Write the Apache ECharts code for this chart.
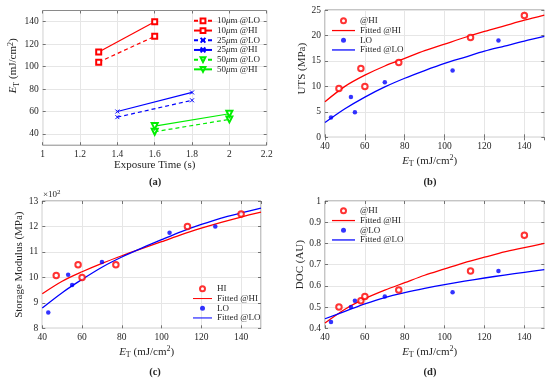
<!DOCTYPE html>
<html><head><meta charset="utf-8">
<script src="https://cdn.jsdelivr.net/npm/echarts@6/dist/echarts.min.js"></script>
<style>html,body{margin:0;padding:0;background:#fff}#c{width:550px;height:383px}</style>
</head><body><div id="c"></div>
<script>
// ---- Panel (a): E_T vs exposure time ----
const aNames = ['10μm @LO', '10μm @HI', '25μm @LO', '25μm @HI', '50μm @LO', '50μm @HI'];
const aX10 = [1.3, 1.6];
const a10LO = [104, 127];
const a10HI = [113, 140];
const aX25 = [1.4, 1.8];
const a25LO = [55, 70];
const a25HI = [60, 77];
const aX50 = [1.6, 2.0];
const a50LO = [42, 53];
const a50HI = [47, 58];
const aYTicks = [40, 60, 80, 100, 120, 140];

// ---- Panels (b)-(d): measured points ----
const hiX = [47, 58, 60, 77, 113, 140];
const loX = [43, 53, 55, 70, 104, 127];
const utsHI = [9.6, 13.5, 10.0, 14.7, 19.6, 23.9];
const utsLO = [3.9, 7.9, 4.9, 10.8, 13.1, 19.0];
const stHI = [10.07, 10.5, 10.0, 10.5, 12.0, 12.49];
const stLO = [8.62, 10.1, 9.7, 10.6, 11.75, 12.0];
const docHI = [0.50, 0.53, 0.55, 0.58, 0.67, 0.838];
const docLO = [0.43, 0.50, 0.53, 0.55, 0.57, 0.67];

// ---- fitted curves ----
const fitX = [40, 50, 60, 70, 80, 90, 100, 110, 120, 130, 140, 150];
const utsFitHI = [7.0, 10.0, 12.2, 14.0, 15.5, 17.0, 18.3, 19.6, 20.8, 21.9, 23.0, 24.0];
const utsFitLO = [2.9, 5.6, 7.9, 9.9, 11.6, 13.1, 14.5, 15.7, 16.9, 17.9, 18.9, 19.8];
const stFitHI = [9.36, 9.85, 10.22, 10.55, 10.85, 11.13, 11.4, 11.68, 11.93, 12.16, 12.37, 12.56];
const stFitLO = [8.8, 9.4, 9.92, 10.4, 10.8, 11.15, 11.48, 11.8, 12.08, 12.33, 12.53, 12.72];
const docFitHI = [0.425, 0.49, 0.54, 0.58, 0.615, 0.65, 0.68, 0.71, 0.735, 0.76, 0.78, 0.80];
const docFitLO = [0.445, 0.48, 0.515, 0.545, 0.568, 0.588, 0.606, 0.622, 0.637, 0.651, 0.664, 0.677];

const captions = ['(a)', '(b)', '(c)', '(d)'];

const serif = 'Liberation Serif';
const TXT = '#262626';
const RED = '#ff0000', BLUE = '#0000ff', GREEN = '#00ee00';
const zip = (xs, ys) => xs.map((x, i) => [x, ys[i]]);

const nameRich = {
  i: {fontStyle: 'italic', fontFamily: serif, fontSize: 11, color: TXT},
  sub: {fontFamily: serif, fontSize: 8, color: TXT, padding: [6, 0, 0, 0]},
  sup: {fontFamily: serif, fontSize: 8, color: TXT, padding: [0, 0, 6, 0]}
};
const ETname = '{i|E}{sub|T} (mJ/cm{sup|2})';

function axis(dim, gi, min, max, interval, o) {
  o = o || {};
  const base = {
    type: 'value', gridIndex: gi, min: min, max: max,
    axisLine: {show: false},
    axisTick: {show: true, inside: true, length: 3, lineStyle: {color: '#555', width: 0.8}},
    axisLabel: {color: TXT, fontFamily: serif, fontSize: 9.5, margin: 4},
    splitLine: {show: true, lineStyle: {color: '#e6e6e6', width: 1}},
    nameTextStyle: {fontFamily: serif, fontSize: 11, color: TXT, rich: nameRich},
    nameLocation: 'middle'
  };
  if (interval != null) base.interval = interval;
  if (o.custom) {
    base.axisTick.customValues = o.custom;
    base.axisLabel.customValues = o.custom;
  }
  if (o.hideMax) base.axisLabel.showMaxLabel = false;
  if (o.name) { base.name = o.name; base.nameGap = o.gap; }
  if (o.pad) base.nameTextStyle.padding = o.pad;
  return base;
}
function mirror(dim, gi, min, max, interval, o) {
  const a = axis(dim, gi, min, max, interval, o);
  a.axisLabel = {show: false, customValues: a.axisLabel.customValues};
  a.splitLine = {show: false};
  a.name = '';
  a.position = dim === 'x' ? 'top' : 'right';
  return a;
}

const grids = [
  {left: 42.7, top: 10.5, width: 224, height: 134.7},
  {left: 325, top: 10, width: 219.3, height: 127.3},
  {left: 42.3, top: 201, width: 218.7, height: 127.3},
  {left: 325, top: 201, width: 219.3, height: 127.3}
].map(g => Object.assign(g, {show: true, borderColor: '#8a8a8a', borderWidth: 1, backgroundColor: '#fff'}));

const xAxes = [
  axis('x', 0, 1, 2.2, 0.2, {name: 'Exposure Time (s)', gap: 12}),
  axis('x', 1, 40, 150, 20, {hideMax: true, name: ETname, gap: 17, pad: [0, 10, 0, 0]}),
  axis('x', 2, 40, 150, 20, {hideMax: true, name: ETname, gap: 17, pad: [0, 10, 0, 0]}),
  axis('x', 3, 40, 150, 20, {hideMax: true, name: ETname, gap: 17, pad: [0, 10, 0, 0]}),
  mirror('x', 0, 1, 2.2, 0.2), mirror('x', 1, 40, 150, 20),
  mirror('x', 2, 40, 150, 20), mirror('x', 3, 40, 150, 20)
];
const yAxes = [
  axis('y', 0, 30, 150, null, {custom: aYTicks, name: ETname, gap: 21, pad: [0, 0, 0, 24]}),
  axis('y', 1, 0, 25, 5, {name: 'UTS (MPa)', gap: 10, pad: [0, 0, 0, 10]}),
  axis('y', 2, 8, 13, 1, {name: 'Storage Modulus (MPa)', gap: 8}),
  axis('y', 3, 0.4, 1, 0.1, {name: 'DOC (AU)', gap: 12}),
  mirror('y', 0, 30, 150, null, {custom: aYTicks}), mirror('y', 1, 0, 25, 5),
  mirror('y', 2, 8, 13, 1), mirror('y', 3, 0.4, 1, 0.1)
];

function aLine(name, xs, ys, color, dashed, symbol, size, rot) {
  return {
    type: 'line', name: name, xAxisIndex: 0, yAxisIndex: 0, data: zip(xs, ys),
    symbol: symbol, symbolSize: size, symbolRotate: rot || 0, showAllSymbol: true,
    lineStyle: {color: color, width: 1.2, type: dashed ? [4, 3] : 'solid'},
    itemStyle: {color: color, borderColor: color, borderWidth: 1},
    z: 3, animation: false
  };
}
const xPath = 'path://M0,0L10,10M10,0L0,10';
const series = [
  aLine(aNames[0], aX10, a10LO, RED, true, 'emptyRect', 5),
  aLine(aNames[1], aX10, a10HI, RED, false, 'emptyRect', 5),
  aLine(aNames[2], aX25, a25LO, BLUE, true, xPath, 4),
  aLine(aNames[3], aX25, a25HI, BLUE, false, xPath, 4),
  aLine(aNames[4], aX50, a50LO, GREEN, true, 'emptyTriangle', 6, 180),
  aLine(aNames[5], aX50, a50HI, GREEN, false, 'emptyTriangle', 6, 180)
];
function fitLine(name, gi, ys, color) {
  return {type: 'line', name: name, xAxisIndex: gi, yAxisIndex: gi, data: zip(fitX, ys),
    showSymbol: false, symbol: 'none', smooth: 0.3, lineStyle: {color: color, width: 1.3},
    itemStyle: {color: color}, z: 2, animation: false};
}
function pts(name, gi, xs, ys, color, hollow) {
  return {type: 'scatter', name: name, xAxisIndex: gi, yAxisIndex: gi, data: zip(xs, ys),
    symbol: hollow ? 'emptyCircle' : 'circle', symbolSize: hollow ? 5.5 : 4.5,
    itemStyle: hollow ? {color: color, borderColor: color, borderWidth: 1.2} : {color: color},
    z: 4, animation: false};
}
series.push(
  pts('@HI', 1, hiX, utsHI, RED, true), fitLine('Fitted @HI', 1, utsFitHI, RED),
  pts('LO', 1, loX, utsLO, BLUE, false), fitLine('Fitted @LO', 1, utsFitLO, BLUE),
  pts('HI', 2, hiX, stHI, RED, true), fitLine('Fitted @HI', 2, stFitHI, RED),
  pts('LO', 2, loX, stLO, BLUE, false), fitLine('Fitted @LO', 2, stFitLO, BLUE),
  pts('@HI', 3, hiX, docHI, RED, true), fitLine('Fitted @HI', 3, docFitHI, RED),
  pts('@LO', 3, loX, docLO, BLUE, false), fitLine('Fitted @LO', 3, docFitLO, BLUE)
);

const legTS = {fontFamily: serif, fontSize: 9, color: TXT, lineHeight: 9.7,
  rich: {i: {fontStyle: 'italic', fontFamily: serif, fontSize: 9, color: TXT}}};
const barIcon = 'path://M0,0H24V1.3H0Z';
function legend(left, top, data, w, h) {
  return {left: left, top: top, orient: 'vertical', itemWidth: w, itemHeight: h || 6, itemGap: 0,
    padding: 0, selectedMode: false, textStyle: legTS,
    data: data.map(n => n.indexOf('Fitted') === 0 ? {name: n, icon: barIcon} : {name: n}),
    formatter: n => n.replace('μ', '{i|μ}')};
}
const legends = [
  legend(193, 16, aNames, 18),
  legend(332, 16, ['@HI', 'Fitted @HI', 'LO', 'Fitted @LO'], 23, 5),
  legend(193, 284, ['HI', 'Fitted @HI', 'LO', 'Fitted @LO'], 19, 5),
  legend(332, 206, ['@HI', 'Fitted @HI', '@LO', 'Fitted @LO'], 23, 5)
];

const capPos = [[155, 182], [430, 182], [155, 372], [430, 372]];
const graphic = captions.map((t, i) => ({
  type: 'text', x: capPos[i][0], y: capPos[i][1],
  style: {text: t, textAlign: 'center', textVerticalAlign: 'middle',
    font: 'bold 10.5px "Liberation Serif"', fill: TXT}
}));
graphic.push({type: 'text', x: 43, y: 195, style: {text: '×10{s|2}', textVerticalAlign: 'middle',
  font: '9px "Liberation Serif"', fill: TXT, rich: {s: {fontSize: 7, fontFamily: serif, padding: [0, 0, 5, 0], fill: TXT}}}});

const chart = echarts.init(document.getElementById('c'), null, {renderer: 'canvas'});
chart.setOption({
  animation: false,
  grid: grids, xAxis: xAxes, yAxis: yAxes, series: series, legend: legends, graphic: graphic
});
</script></body></html>
